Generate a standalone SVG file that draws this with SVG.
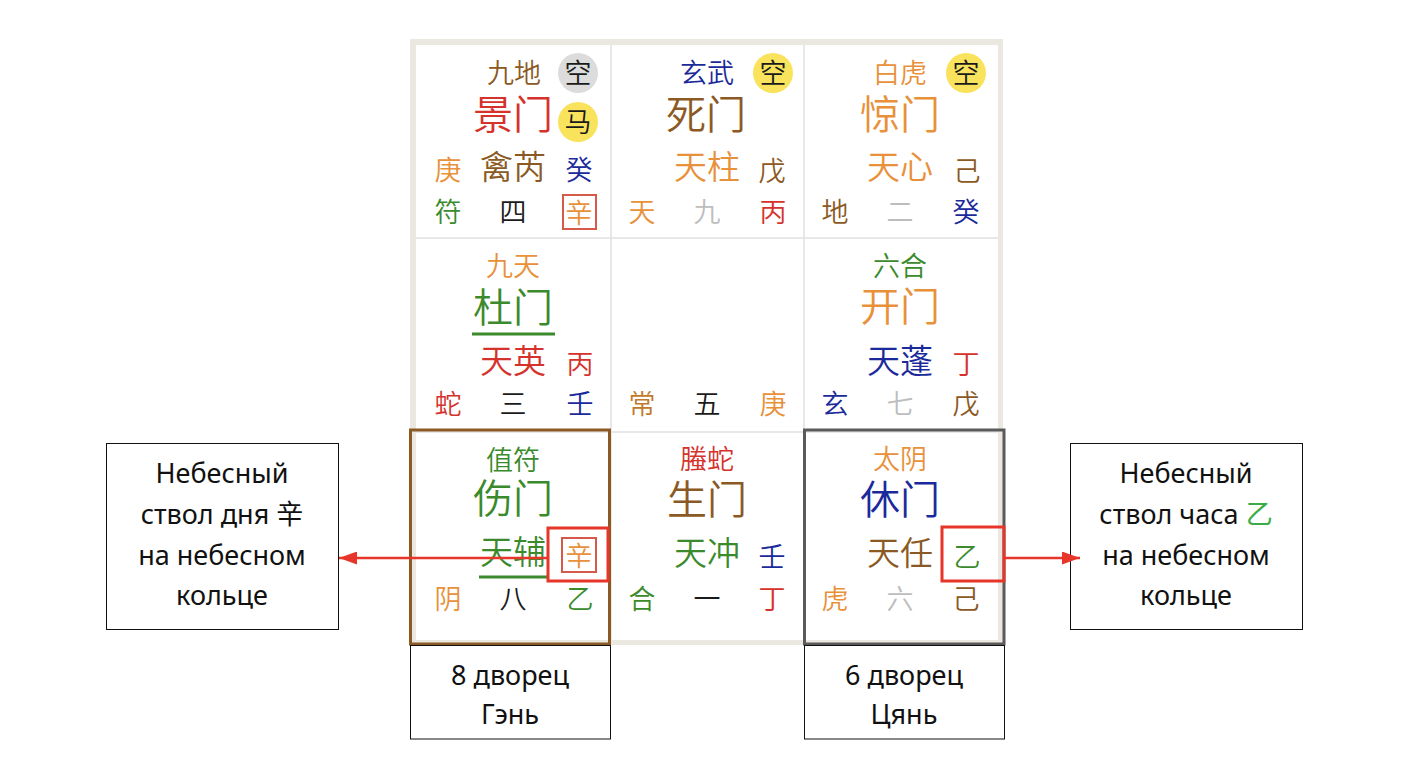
<svg xmlns="http://www.w3.org/2000/svg" width="1424" height="758" viewBox="0 0 1424 758">
<style>
.c{font-family:"Noto Sans CJK SC","Noto Sans CJK JP",sans-serif;font-weight:350;text-anchor:middle;dominant-baseline:central}
.sm{font-size:27px}.gt{font-size:40px}.st{font-size:33px}
.br{fill:#8B5A24}.rd{fill:#D5322C}.or{fill:#E8913A}.gn{fill:#3B8A2C}.bl{fill:#1B2A9B}.gy{fill:#BDBDBD}.bk{fill:#1A1A1A}
.ru{font-family:"Noto Sans","Open Sans",sans-serif;font-size:27px;text-anchor:middle;fill:#111}
.grid{stroke:#E0E0E0;stroke-width:1.5}
.box{fill:#fff;stroke:#111;stroke-width:1}
.hl{fill:none;stroke:#E8352A;stroke-width:3}
.sq{fill:none;stroke:#D65A4A;stroke-width:2}
.arrow{stroke:#E8352A;stroke-width:2.5;fill:none}
</style>
<defs>
<marker id="ah" viewBox="0 0 18 13" refX="18" refY="6.5" markerWidth="18" markerHeight="13" markerUnits="userSpaceOnUse" orient="auto">
<path d="M0,0 L18,6.5 L0,13 z" fill="#E8352A"/>
</marker>
</defs>
<rect width="1424" height="758" fill="#fff"/>
<g id="board">
<rect x="410" y="39" width="593" height="606" fill="#EAE8E0"/>
<rect x="416" y="45" width="582" height="595" fill="#fff"/>
<line class="grid" x1="611" y1="45" x2="611" y2="640"/>
<line class="grid" x1="804" y1="45" x2="804" y2="640"/>
<line class="grid" x1="416" y1="238" x2="998" y2="238"/>
<line class="grid" x1="416" y1="432" x2="998" y2="432"/>
</g>
<g transform="translate(0,-2)">
<g id="cell-r0c0">
<text class="c sm br" x="514" y="73">九地</text>
<circle cx="578" cy="75" r="20" fill="#DCDCDC"/>
<text class="c sm bk" x="578" y="73">空</text>
<text class="c gt rd" x="513" y="114">景门</text>
<circle cx="578" cy="124" r="20" fill="#F9E35C"/>
<text class="c sm bk" x="578" y="122">马</text>
<text class="c sm or" x="448" y="170">庚</text>
<text class="c st br" x="513" y="167">禽芮</text>
<text class="c sm bl" x="579" y="170">癸</text>
<text class="c sm gn" x="448" y="212">符</text>
<text class="c sm bk" x="513" y="212">四</text>
<rect class="sq" x="563" y="197" width="33" height="34"/>
<text class="c sm or" x="579" y="213">辛</text>
</g>
<g id="cell-r0c1">
<text class="c sm bl" x="707" y="73">玄武</text>
<circle cx="773" cy="75" r="20" fill="#F9E35C"/>
<text class="c sm bk" x="773" y="73">空</text>
<text class="c gt br" x="706" y="114">死门</text>
<text class="c st or" x="707" y="167">天柱</text>
<text class="c sm br" x="772" y="171">戊</text>
<text class="c sm or" x="642" y="212">天</text>
<text class="c sm gy" x="707" y="212">九</text>
<text class="c sm rd" x="773" y="212">丙</text>
</g>
<g id="cell-r0c2">
<text class="c sm or" x="900" y="73">白虎</text>
<circle cx="966" cy="75" r="20" fill="#F9E35C"/>
<text class="c sm bk" x="966" y="73">空</text>
<text class="c gt or" x="900" y="114">惊门</text>
<text class="c st or" x="900" y="167">天心</text>
<text class="c sm br" x="967" y="171">己</text>
<text class="c sm br" x="835" y="212">地</text>
<text class="c sm gy" x="900" y="212">二</text>
<text class="c sm bl" x="966" y="212">癸</text>
</g>
<g id="cell-r1c0">
<text class="c sm or" x="513" y="266">九天</text>
<text class="c gt gn" x="513" y="307">杜门</text>
<line x1="472" y1="336" x2="555" y2="336" stroke="#3B8A2C" stroke-width="3"/>
<text class="c st rd" x="513" y="361">天英</text>
<text class="c sm rd" x="580" y="364">丙</text>
<text class="c sm rd" x="448" y="404">蛇</text>
<text class="c sm bk" x="513" y="404">三</text>
<text class="c sm bl" x="580" y="404">壬</text>
</g>
<g id="cell-r1c1">
<text class="c sm" x="642" y="404" fill="#C07A2A">常</text>
<text class="c sm bk" x="707" y="404">五</text>
<text class="c sm or" x="773" y="404">庚</text>
</g>
<g id="cell-r1c2">
<text class="c sm gn" x="900" y="266">六合</text>
<text class="c gt or" x="900" y="306">开门</text>
<text class="c st bl" x="900" y="361">天蓬</text>
<text class="c sm rd" x="966" y="364">丁</text>
<text class="c sm bl" x="835" y="404">玄</text>
<text class="c sm gy" x="900" y="404">七</text>
<text class="c sm br" x="966" y="404">戊</text>
</g>
<g id="cell-r2c0">
<text class="c sm gn" x="513" y="460">值符</text>
<text class="c gt gn" x="513" y="498">伤门</text>
<text class="c st gn" x="513" y="552">天辅</text>
<line x1="479" y1="579" x2="547" y2="579" stroke="#3B8A2C" stroke-width="3"/>
<rect class="sq" x="562" y="540" width="34" height="34"/>
<text class="c sm or" x="579" y="556">辛</text>
<text class="c sm or" x="448" y="599">阴</text>
<text class="c sm bk" x="513" y="599">八</text>
<text class="c sm gn" x="580" y="599">乙</text>
</g>
<g id="cell-r2c1">
<text class="c sm rd" x="707" y="459">螣蛇</text>
<text class="c gt br" x="707" y="499">生门</text>
<text class="c st gn" x="707" y="553">天冲</text>
<text class="c sm bl" x="772" y="557">壬</text>
<text class="c sm gn" x="642" y="599">合</text>
<text class="c sm bk" x="707" y="599">一</text>
<text class="c sm rd" x="772" y="599">丁</text>
</g>
<g id="cell-r2c2">
<text class="c sm or" x="900" y="459">太阴</text>
<text class="c gt bl" x="900" y="499">休门</text>
<text class="c st br" x="900" y="553">天任</text>
<text class="c sm gn" x="967" y="557">乙</text>
<text class="c sm or" x="835" y="599">虎</text>
<text class="c sm gy" x="900" y="599">六</text>
<text class="c sm br" x="966" y="599">己</text>
</g>
</g>
<g id="palace-gen">
<rect x="410.5" y="430" width="199" height="214" fill="none" stroke="#8B5A24" stroke-width="3"/>
<rect class="box" x="410.5" y="645.5" width="200" height="93.5"/>
<text class="ru" x="510" y="685">8 дворец</text>
<text class="ru" x="510" y="724">Гэнь</text>
</g>
<g id="palace-qian">
<rect x="804.5" y="430" width="199.5" height="214" fill="none" stroke="#5A5A5A" stroke-width="3"/>
<rect class="box" x="804.5" y="645.5" width="200" height="93.5"/>
<text class="ru" x="904" y="685">6 дворец</text>
<text class="ru" x="904" y="724">Цянь</text>
</g>
<g id="highlight-day">
<rect class="hl" x="548" y="528" width="60" height="53"/>
</g>
<g id="highlight-hour">
<rect class="hl" x="942" y="527" width="62" height="54"/>
</g>
<g id="note-day">
<rect class="box" x="106.5" y="443.5" width="232" height="186"/>
<text class="ru" x="222" y="483">Небесный</text>
<text class="ru" x="222" y="524">ствол дня <tspan font-family="Noto Sans CJK SC, sans-serif">辛</tspan></text>
<text class="ru" x="222" y="565">на небесном</text>
<text class="ru" x="222" y="605">кольце</text>
</g>
<g id="note-hour">
<rect class="box" x="1070.5" y="443.5" width="232" height="186"/>
<text class="ru" x="1186" y="483">Небесный</text>
<text class="ru" x="1186" y="524">ствол часа <tspan font-family="Noto Sans CJK SC, sans-serif" fill="#3DAA48">乙</tspan></text>
<text class="ru" x="1186" y="565">на небесном</text>
<text class="ru" x="1186" y="605">кольце</text>
</g>
<g id="connectors">
<line class="arrow" x1="548" y1="558" x2="339" y2="558" marker-end="url(#ah)"/>
<line class="arrow" x1="1004" y1="558" x2="1080" y2="558" marker-end="url(#ah)"/>
</g>
</svg>
